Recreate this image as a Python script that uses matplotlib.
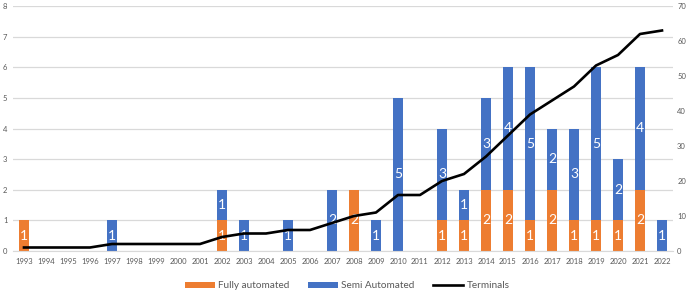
import matplotlib
matplotlib.use("Agg")
import matplotlib.pyplot as plt
import numpy as np

years = [str(y) for y in range(1993, 2023)]
fully = [1,0,0,0,0,0,0,0,0,1,0,0,0,0,0,2,0,0,0,1,1,2,2,1,2,1,1,1,2,0]
semi  = [0,0,0,0,1,0,0,0,0,1,1,0,1,0,2,0,1,5,0,3,1,3,4,5,2,3,5,2,4,1]
terminals = [1,1,1,1,2,2,2,2,2,4,5,5,6,6,8,10,11,16,16,20,22,27,33,39,43,47,53,56,62,63]

plt.rcParams['font.family'] = ['Lato', 'DejaVu Sans']
ORANGE = '#ED7D31'
BLUE = '#4472C4'
GREY = '#595959'

fig = plt.figure(figsize=(6.9, 2.93), dpi=100)
ax = fig.add_axes([13/690, 1-251/293, 660/690, 245/293])
x = np.arange(len(years))
w = 0.44
b1 = ax.bar(x, fully, w, color=ORANGE, label='Fully automated', zorder=2)
b2 = ax.bar(x, semi, w, bottom=fully, color=BLUE, label='Semi Automated', zorder=2)
for bars, vals in ((b1, fully), (b2, semi)):
    labels = [str(v) if v else '' for v in vals]
    ax.bar_label(bars, labels=labels, label_type='center', color='white', fontsize=10)

ax.set_ylim(0, 8)
ax.set_xlim(-0.5, len(years) - 0.5)
ax.set_yticks(range(0, 9))
ax.set_xticks(x)
ax.set_xticklabels(years)
ax.tick_params(axis='x', length=0, labelsize=5.5, colors=GREY, pad=5)
ax.tick_params(axis='y', length=0, labelsize=5.5, colors=GREY, pad=4)
ax.grid(axis='y', color='#D9D9D9', linewidth=0.9, zorder=0)
ax.set_axisbelow(True)
for s in ax.spines.values():
    s.set_visible(False)
ax.spines['bottom'].set_visible(True)
ax.spines['bottom'].set_color('#D9D9D9')

ax2 = ax.twinx()
ln, = ax2.plot(x, terminals, color='black', linewidth=1.9, label='Terminals', zorder=3)
ax2.set_ylim(0, 70)
ax2.set_yticks(range(0, 71, 10))
ax2.tick_params(axis='y', length=0, labelsize=5.5, colors=GREY, pad=3)
for s in ax2.spines.values():
    s.set_visible(False)

handles = [b1, b2, ln]
fig.legend(handles, ['Fully automated', 'Semi Automated', 'Terminals'],
           loc='center', bbox_to_anchor=(347/690, 1-286/293), ncol=3, frameon=False,
           fontsize=7.2, labelcolor=GREY, handlelength=3.0, handleheight=0.5,
           columnspacing=1.9, handletextpad=0.3)

fig.savefig('out.png', dpi=100)
